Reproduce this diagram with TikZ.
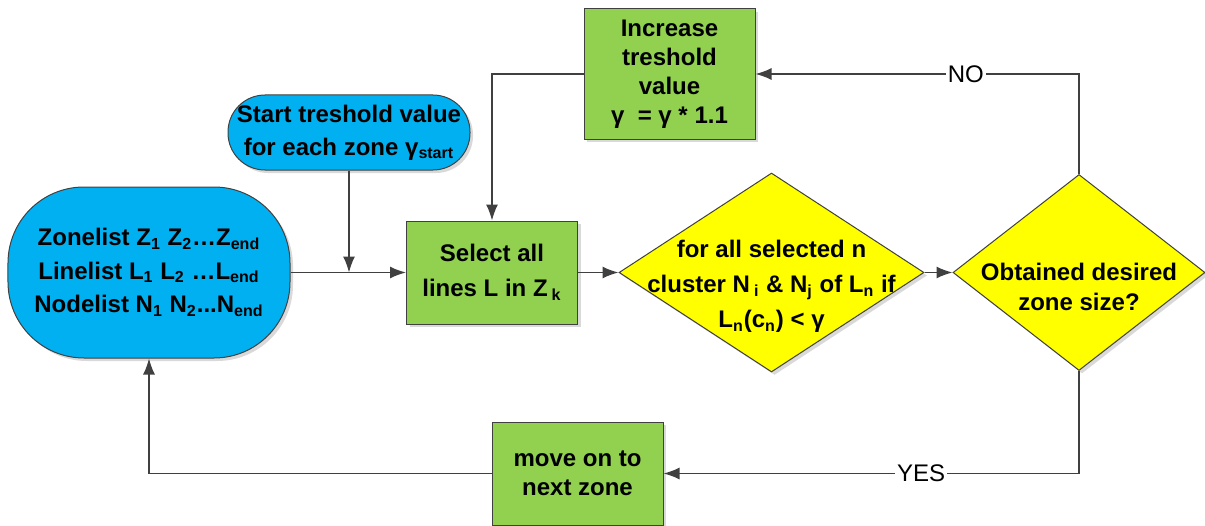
\documentclass[tikz,border=0pt]{standalone}
\usepackage{fontspec}
\setmainfont{Liberation Sans}
\usepackage{xcolor}
\usetikzlibrary{shapes,arrows.meta,shadows}
\definecolor{zoneblue}{RGB}{0,176,240}
\definecolor{stepgreen}{RGB}{146,208,80}
\definecolor{testyellow}{RGB}{255,255,0}
\definecolor{wire}{RGB}{64,64,64}

\begin{document}
\begin{tikzpicture}
	\tikzstyle{common} = [draw=wire, line width=0.5pt, align=center, inner sep=2pt, font=\bfseries\fontsize{12}{14.5}\selectfont, drop shadow={shadow xshift=1.5pt, shadow yshift=-1.5pt, fill=black!15, opacity=1}]
	\tikzstyle{terminal} = [rectangle, common, fill=zoneblue]
	\tikzstyle{process} = [rectangle, common, fill=stepgreen, minimum width=85.5pt, minimum height=51.5pt]
	\tikzstyle{decision} = [diamond, common, fill=testyellow, inner sep=0pt]
	\tikzstyle{inside} = [align=center, inner sep=0pt, yshift=-7pt, font=\bfseries\fontsize{12}{14.5}\selectfont]
	\tikzstyle{line} = [draw=wire, line width=0.75pt, -{Latex[length=8pt,width=6pt]}]
	\tikzstyle{answer} = [fill=white, inner sep=1pt, font=\fontsize{12}{14.5}\selectfont]
	\useasboundingbox (-74.5pt,-126.25pt) rectangle (528pt,136.25pt);
	\node[terminal, rounded corners=38pt, minimum width=141pt, minimum height=85.5pt] (lists) {Zonelist Z\textsubscript{1} Z\textsubscript{2}…Z\textsubscript{end}\\[2.25pt]Linelist L\textsubscript{1} L\textsubscript{2} …L\textsubscript{end}\\[2.25pt]Nodelist N\textsubscript{1} N\textsubscript{2}...N\textsubscript{end}};
	\node[terminal, rounded corners=18.5pt, minimum width=121pt, minimum height=37.5pt, above of=lists, node distance=70pt, xshift=100pt] (start) {Start treshold value\\[2pt]for each zone γ\textsubscript{start}};
	\node[process, right of=lists, node distance=171.5pt] (select) {Select all\\[3pt]lines L in Z\,\textsubscript{k}};
	\node[process, minimum height=65pt, above of=select, node distance=99.25pt, xshift=88.75pt] (increase) {Increase\\treshold\\value\\γ~~= γ * 1.1};
	\node[process, below of=select, node distance=100.5pt, xshift=42.75pt] (move) {move on to\\next zone};
	\node[decision, minimum width=152.5pt, minimum height=99.5pt, right of=select, node distance=139.75pt, label={[inside]center:for all selected n\\[3pt]cluster N\,\textsubscript{i} \& N\textsubscript{j} of L\textsubscript{n} if\\[3pt]L\textsubscript{n}(c\textsubscript{n}) < γ}] (filter) {};
	\node[decision, minimum width=126pt, minimum height=98pt, right of=filter, node distance=153.75pt, label={[inside]center:Obtained desired\\[0.5pt]zone size?}] (check) {};

	\draw[line] (lists) -- (select);
	\draw[line] (start) -- (start |- lists.east);
	\draw[line] (select) -- (filter);
	\draw[line] (filter) -- (check);
	\draw[line] (check) |- (increase) node[answer, pos=0.675]{NO};
	\draw[line] (increase) -| (select);
	\draw[line] (check) |- (move) node[answer, pos=0.69]{YES};
	\draw[line] (move) -| (lists);
\end{tikzpicture}
\end{document}
